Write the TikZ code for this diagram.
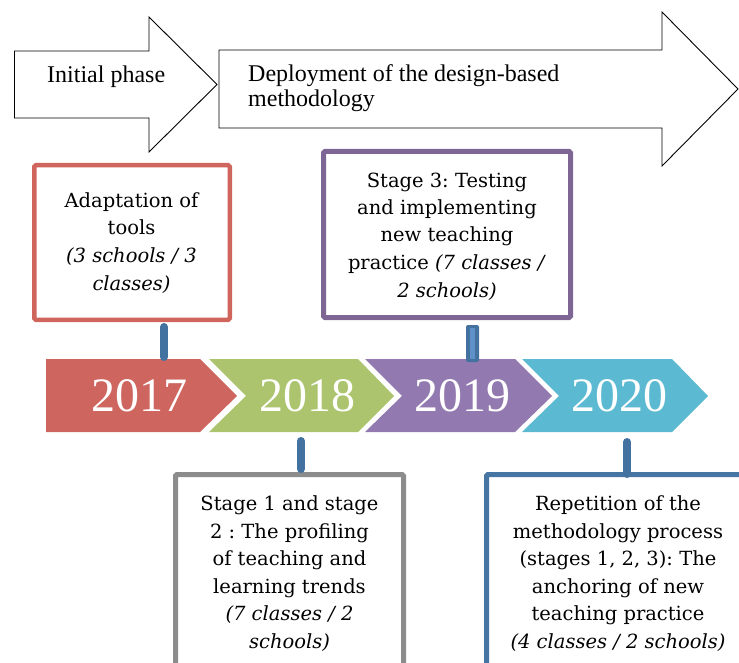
\documentclass[tikz,border=0pt]{standalone}
\usepackage{fontspec}
\newfontfamily\tnr{Liberation Serif}
\newfontfamily\boxfont{DejaVu Serif}
\definecolor{redbox}{RGB}{207,101,93}
\definecolor{redchev}{RGB}{206,102,95}
\definecolor{greenchev}{RGB}{171,196,109}
\definecolor{purplechev}{RGB}{146,121,175}
\definecolor{purplebox}{RGB}{125,101,148}
\definecolor{bluechev}{RGB}{91,185,209}
\definecolor{stemblue}{RGB}{68,114,160}
\definecolor{stemlight}{RGB}{95,145,200}
\definecolor{graybox}{RGB}{140,140,140}
\definecolor{bluebox}{RGB}{70,116,163}
\tikzset{
  bigarrow/.style={draw=black, line width=0.9pt, fill=white, line join=miter},
  framebox/.style={fill=white, rounded corners=1.5pt, inner sep=0pt},
  stemline/.style={line width=8pt, line cap=round, draw=stemblue},
  boxtext/.style={font=\boxfont\frenchspacing\fontsize{19.5}{27.5}\selectfont, align=center, inner sep=0pt, anchor=base},
  yeartext/.style={font=\tnr\fontsize{48}{48}\selectfont, text=white, inner sep=0pt, anchor=center},
  toptext/.style={font=\tnr\fontsize{24}{25}\selectfont, align=left, inner sep=0pt, anchor=base west},
}
\begin{document}
\frenchspacing
\begin{tikzpicture}[x=1pt,y=-1pt]
\useasboundingbox (0,0) rectangle (739,663);
% top arrows
\draw[bigarrow] (219,50) -- (662,50) -- (662,12) -- (738,89) -- (662,166) -- (662,128) -- (219,128) -- cycle;
\draw[bigarrow] (14.5,51) -- (149,51) -- (149,17) -- (217,84.5) -- (149,152) -- (149,118) -- (14.5,118) -- cycle;
\node[toptext] (initial) at (47,83) {Initial phase};
\node[toptext] (deploy) at (248,107) {Deployment of the design-based\\methodology};
% boxes
\node[framebox, draw=redbox, line width=4.5pt, minimum width=195.5pt, minimum height=154.5pt] (rbox) at (132,242.5) {};
\node[boxtext] (rtext) at (131.5,290) {Adaptation of\\tools\\\textit{(3 schools / 3}\\\textit{classes)}};
\node[framebox, draw=purplebox, line width=5pt, minimum width=247pt, minimum height=166pt] (pbox) at (447,234.5) {};
\node[boxtext] (ptext) at (447,297) {Stage 3: Testing\\and implementing\\new teaching\\practice \textit{(7 classes /}\\\textit{2 schools)}};
\node[framebox, draw=graybox, line width=5pt, minimum width=228pt, minimum height=225.5pt] (gbox) at (289.5,587.25) {};
\node[boxtext] (gtext) at (289.5,648) {Stage 1 and stage\\2 : The profiling\\of teaching and\\learning trends\\\textit{(7 classes / 2}\\\textit{schools)}};
\node[framebox, draw=bluebox, line width=5pt, minimum width=263pt, minimum height=225.5pt] (bbox) at (618,587.25) {};
\node[boxtext] (btext) at (618,648) {Repetition of the\\methodology process\\(stages 1, 2, 3): The\\anchoring of new\\teaching practice\\\textit{(4 classes / 2 schools)}};
% chevrons
\fill[redchev] (46,359) -- (200,359) -- (237,396) -- (200,432) -- (46,432) -- cycle;
\fill[greenchev] (209,359) -- (358,359) -- (394,396) -- (358,432) -- (209,432) -- (246,396) -- cycle;
\fill[purplechev] (365,359) -- (515,359) -- (552,396) -- (515,432) -- (365,432) -- (402,396) -- cycle;
\fill[bluechev] (522,359) -- (672,359) -- (708,396) -- (672,432) -- (522,432) -- (559,396) -- cycle;
\node[yeartext] (y2017) at (139,396) {2017};
\node[yeartext] (y2018) at (307,396) {2018};
\node[yeartext] (y2019) at (462,396) {2019};
\node[yeartext] (y2020) at (619,396) {2020};
% stems
\coordinate (r1) at (164,327); \coordinate (r2) at (164,357);
\draw[stemline] (r1) -- (r2);
\coordinate (g1) at (301,441); \coordinate (g2) at (301,469);
\draw[stemline] (g1) -- (g2);
\coordinate (b1) at (627,442); \coordinate (b2) at (627,474);
\draw[stemline] (b1) -- (b2);
\coordinate (p1) at (466,325); \coordinate (p2) at (479,362);
\coordinate (p3) at (470,328); \coordinate (p4) at (475,359);
\fill[stemblue, rounded corners=2pt] (p1) rectangle (p2);
\fill[stemlight] (p3) rectangle (p4);
\end{tikzpicture}
\end{document}
